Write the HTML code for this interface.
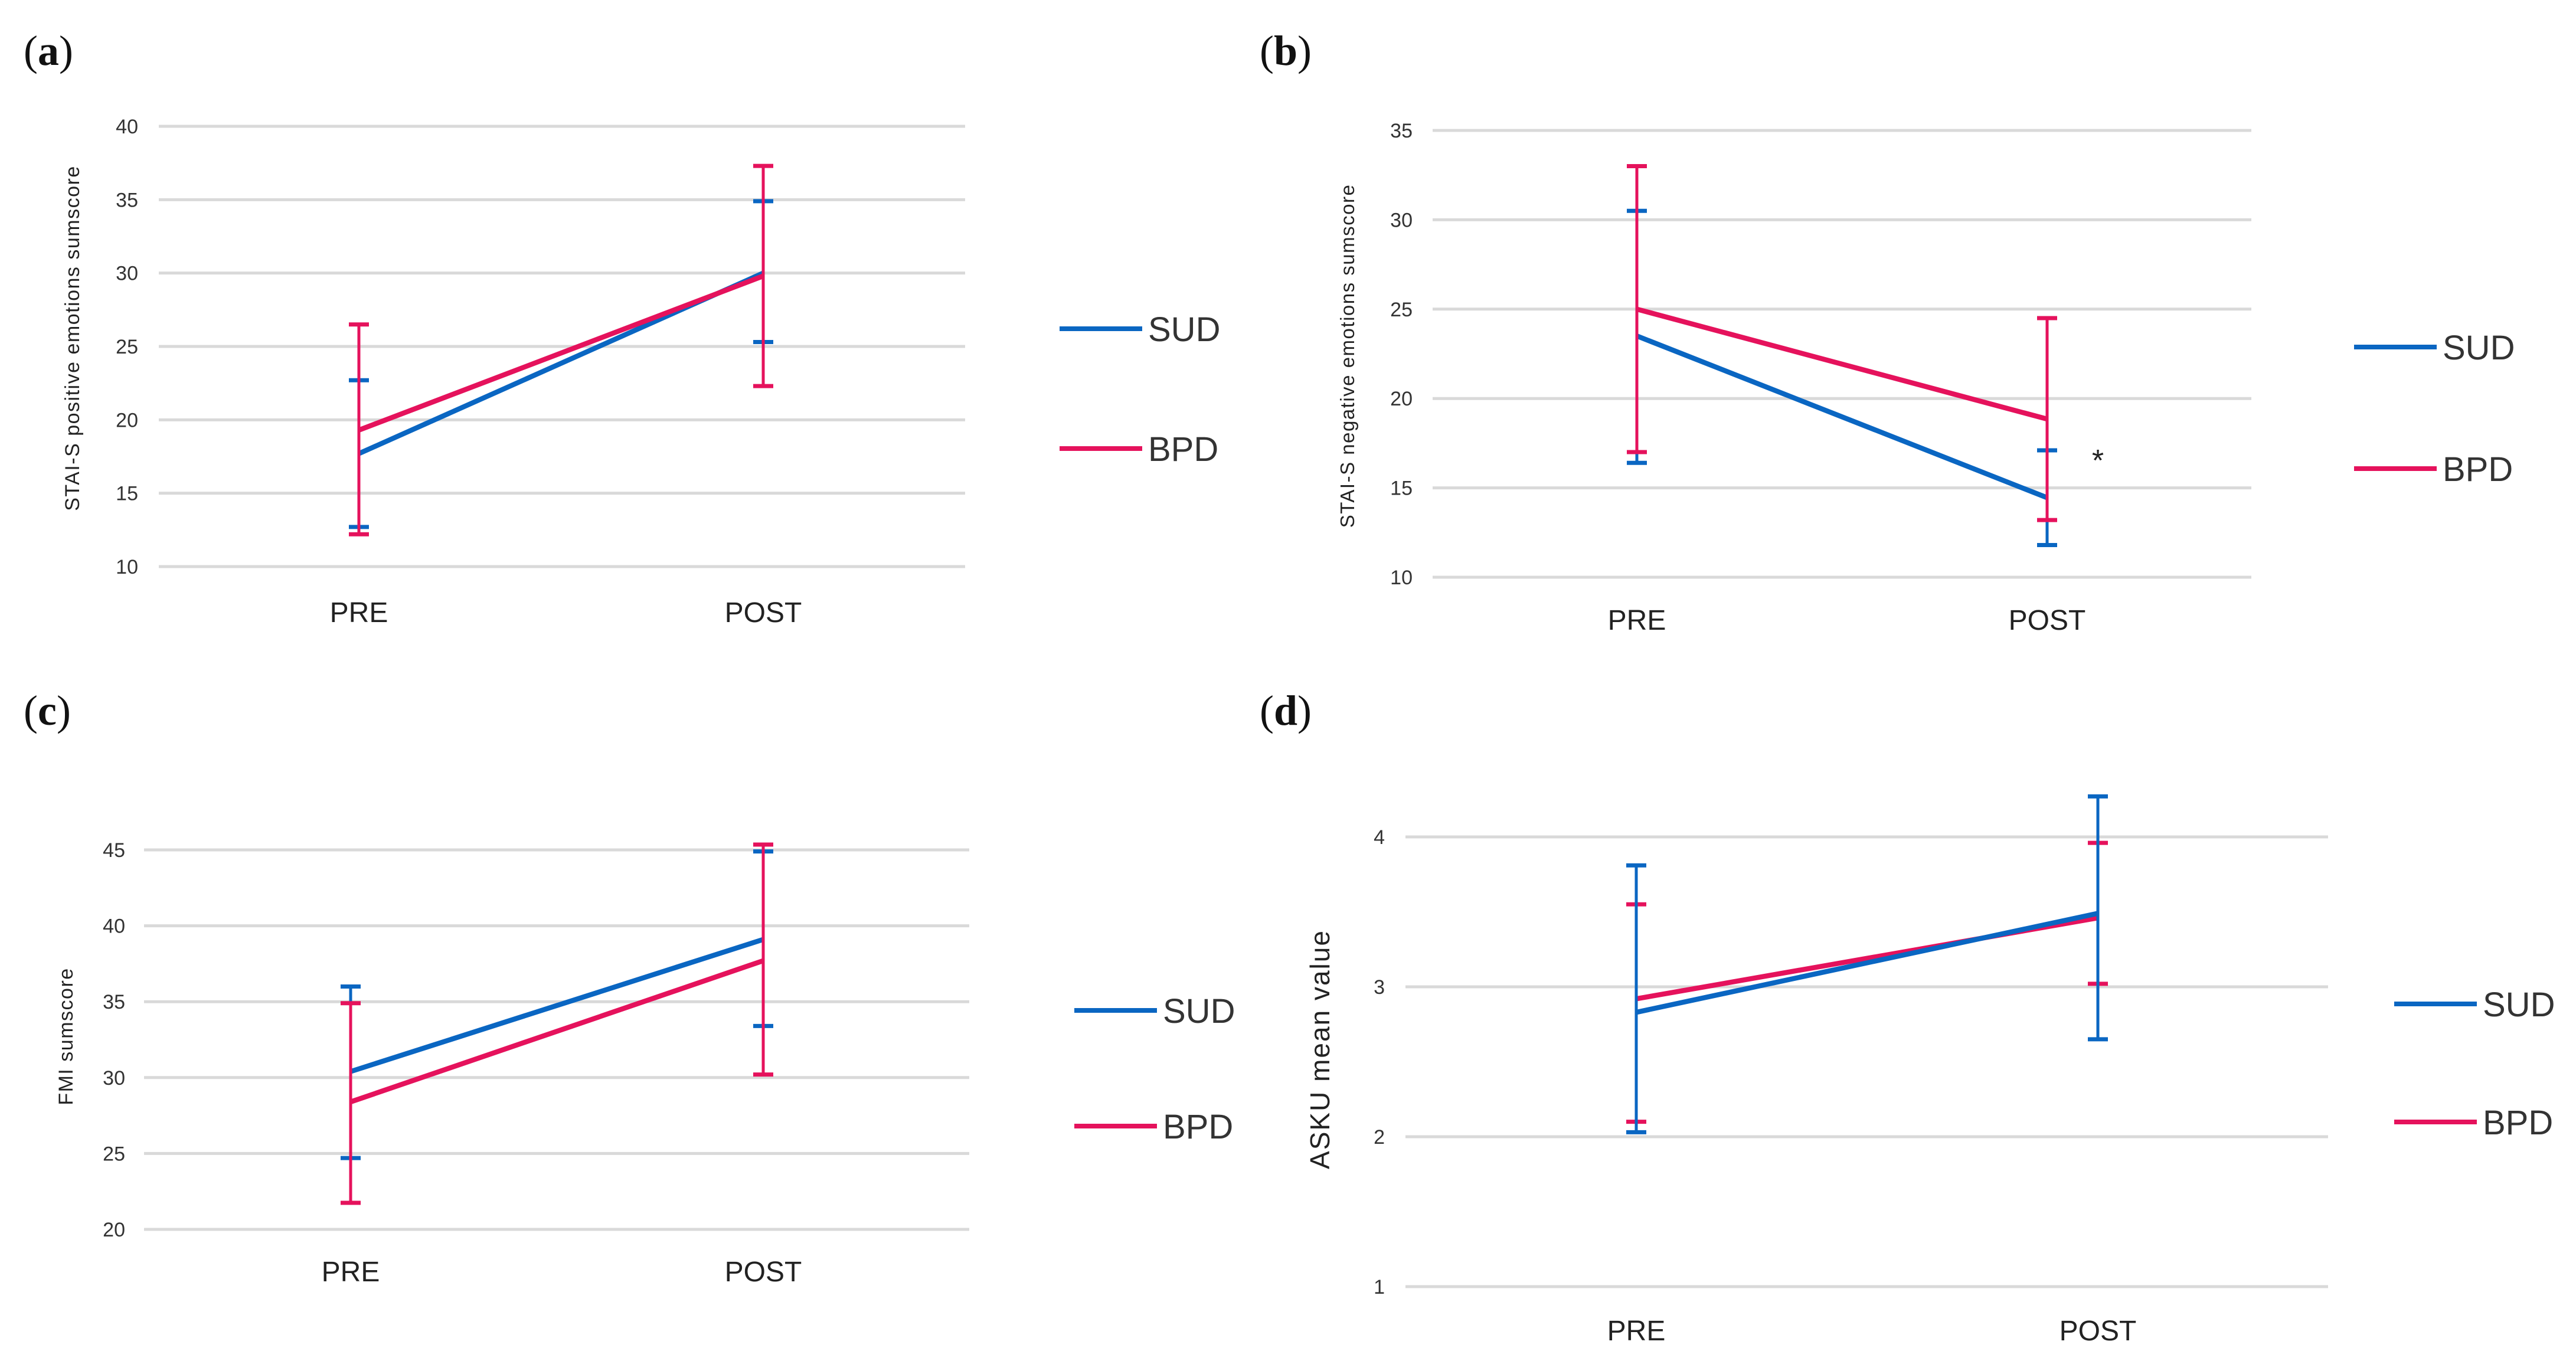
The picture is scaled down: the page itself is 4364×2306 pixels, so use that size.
<!DOCTYPE html>
<html><head><meta charset="utf-8"><style>
html,body{margin:0;padding:0;background:#fff;}
svg{display:block;}
</style></head><body>
<svg id="fig" xmlns="http://www.w3.org/2000/svg" width="4364" height="2306" viewBox="0 0 4364 2306"></svg>
<script>
const categories = ["PRE","POST"];
const seriesNames = ["SUD","BPD"];
// Panel a
const aTicks = [10,15,20,25,30,35,40];
const aSUD = [17.7, 30.0];
const aSUDlo = [12.7, 25.3];
const aSUDhi = [22.7, 34.9];
const aBPD = [19.3, 29.8];
const aBPDlo = [12.2, 22.3];
const aBPDhi = [26.5, 37.3];
// Panel b
const bTicks = [10,15,20,25,30,35];
const bSUD = [23.5, 14.45];
const bSUDlo = [16.4, 11.8];
const bSUDhi = [30.5, 17.1];
const bBPD = [25.0, 18.85];
const bBPDlo = [17.0, 13.2];
const bBPDhi = [33.0, 24.5];
// Panel c
const cTicks = [20,25,30,35,40,45];
const cSUD = [30.4, 39.1];
const cSUDlo = [24.7, 33.4];
const cSUDhi = [36.0, 44.9];
const cBPD = [28.4, 37.7];
const cBPDlo = [21.75, 30.2];
const cBPDhi = [34.9, 45.35];
// Panel d
const dTicks = [1,2,3,4];
const dSUD = [2.83, 3.49];
const dSUDlo = [2.03, 2.65];
const dSUDhi = [3.81, 4.27];
const dBPD = [2.92, 3.46];
const dBPDlo = [2.10, 3.02];
const dBPDhi = [3.55, 3.96];

const NS = "http://www.w3.org/2000/svg";
const svg = document.getElementById("fig");
const BLUE = "#0a66c2", RED = "#e5125c";
function mk(tag, attrs, parent, text){
  const e = document.createElementNS(NS, tag);
  for (const k in attrs) e.setAttribute(k, attrs[k]);
  if (text !== undefined) e.textContent = text;
  (parent || svg).appendChild(e);
  return e;
}

function panel(cfg){
  const g = mk("g", {});
  
  
  const t0 = cfg.ticks[0], t1 = cfg.ticks[cfg.ticks.length-1];
  const y = v => cfg.yBot - (v - t0) / (t1 - t0) * (cfg.yBot - cfg.yTop);
  const x = i => cfg.xs[i];
  const lab = mk("text", {x: cfg.lx, y: cfg.ly, "font-family": "Liberation Serif, serif", "font-size": 72, fill: "#111"}, g);
  
  
  mk("tspan", {}, lab, "(");
  mk("tspan", {"font-weight": "bold"}, lab, cfg.id);
  mk("tspan", {}, lab, ")");
  cfg.ticks.forEach(t => {
    const gl = mk("line", {x1: cfg.gx0, x2: cfg.gx1, y1: y(t), y2: y(t), stroke: "#d9d9d9", "stroke-width": 5}, g);
    
    
    const tl = mk("text", {x: cfg.tickX, y: y(t) + 12, "text-anchor": "end", "font-family": "Liberation Sans, sans-serif", "font-size": 34, fill: "#333"}, g, String(t));
    
    
  });
  const yt = mk("text", {x: 0, y: 0, transform: `translate(${cfg.titleX},${cfg.titleY}) rotate(-90)`, "text-anchor": "middle", "font-family": "Liberation Sans, sans-serif", "font-size": cfg.titleFs, "letter-spacing": cfg.titleLs, fill: "#222"}, g, cfg.title);
  
  
  categories.forEach((c, i) => {
    const xl = mk("text", {x: x(i), y: cfg.xlY + 17, "text-anchor": "middle", "font-family": "Liberation Sans, sans-serif", "font-size": 48, fill: "#222"}, g, c);
    
    
  });
  const series = [
    {name: "SUD", col: BLUE, v: cfg.sud, lo: cfg.sudLo, hi: cfg.sudHi},
    {name: "BPD", col: RED, v: cfg.bpd, lo: cfg.bpdLo, hi: cfg.bpdHi}
  ];
  const order = cfg.blueTop ? [1,0] : [0,1];
  order.forEach(si => {
    const s = series[si];
    const pl = mk("polyline", {points: s.v.map((v,i) => x(i) + "," + y(v)).join(" "), fill: "none", stroke: s.col, "stroke-width": 8.5, "stroke-linejoin": "round"}, g);
    
    
  });
  order.forEach(si => {
    const s = series[si];
    s.v.forEach((v, i) => {
      const eg = mk("g", {stroke: s.col, "stroke-width": 5}, g);
      
      
      mk("line", {x1: x(i), x2: x(i), y1: y(s.lo[i]), y2: y(s.hi[i])}, eg);
      mk("line", {x1: x(i)-17, x2: x(i)+17, y1: y(s.lo[i]), y2: y(s.lo[i]), "stroke-width": 7}, eg);
      mk("line", {x1: x(i)-17, x2: x(i)+17, y1: y(s.hi[i]), y2: y(s.hi[i]), "stroke-width": 7}, eg);
    });
  });
  series.forEach((s, k) => {
    const ly = cfg.legY[k];
    const lg = mk("g", {}, g);
    
    
    mk("line", {x1: cfg.legX0, x2: cfg.legX0 + 140, y1: ly, y2: ly, stroke: s.col, "stroke-width": 8}, lg);
    mk("text", {x: cfg.legX0 + 150, y: ly + 21, "font-family": "Liberation Sans, sans-serif", "font-size": 58, fill: "#333"}, lg, s.name);
  });
  if (cfg.star) {
    const st = mk("text", {x: cfg.star[0], y: cfg.star[1] + 22, "text-anchor": "middle", "font-family": "Liberation Sans, sans-serif", "font-size": 52, fill: "#222"}, g, "*");
    
    
  }
}

panel({id:"a", lx:40, ly:110, ticks:aTicks, yTop:214, yBot:960, gx0:269, gx1:1635, tickX:234, xs:[608,1293], xlY:1037,
  title:"STAI-S positive emotions sumscore", titleX:134, titleY:573, titleFs:34, titleLs:1.5,
  sud:aSUD, sudLo:aSUDlo, sudHi:aSUDhi, bpd:aBPD, bpdLo:aBPDlo, bpdHi:aBPDhi, legX0:1795, legY:[557,760]});
panel({id:"b", lx:2134, ly:110, ticks:bTicks, yTop:221, yBot:978, gx0:2427, gx1:3814, tickX:2393, xs:[2773,3468], xlY:1050,
  title:"STAI-S negative emotions sumscore", titleX:2294, titleY:603, titleFs:33, titleLs:1.5,
  sud:bSUD, sudLo:bSUDlo, sudHi:bSUDhi, bpd:bBPD, bpdLo:bBPDlo, bpdHi:bBPDhi, legX0:3988, legY:[588,794], star:[3554,776]});
panel({id:"c", lx:40, ly:1228, ticks:cTicks, yTop:1440, yBot:2083, gx0:244, gx1:1642, tickX:212, xs:[594,1293], xlY:2154,
  title:"FMI sumscore", titleX:123, titleY:1756, titleFs:34, titleLs:1.5,
  sud:cSUD, sudLo:cSUDlo, sudHi:cSUDhi, bpd:cBPD, bpdLo:cBPDlo, bpdHi:cBPDhi, legX0:1820, legY:[1712,1908]});
panel({id:"d", lx:2134, ly:1228, ticks:dTicks, yTop:1418, yBot:2180, gx0:2381, gx1:3944, tickX:2346, xs:[2772,3554], xlY:2254,
  title:"ASKU mean value", titleX:2252, titleY:1778, titleFs:46, titleLs:2,
  sud:dSUD, sudLo:dSUDlo, sudHi:dSUDhi, bpd:dBPD, bpdLo:dBPDlo, bpdHi:dBPDhi, legX0:4056, legY:[1701,1901], blueTop:true});
</script>
</body></html>
